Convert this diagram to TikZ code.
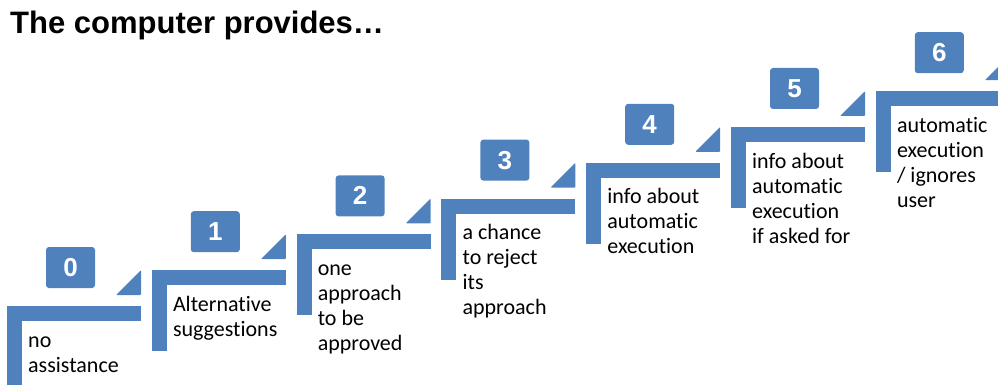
\documentclass[tikz,border=0pt]{standalone}
\usepackage{fontspec}
\setmainfont{Carlito}[Ligatures=NoCommon]
\newfontfamily\headfont{Liberation Sans}
\definecolor{stepblue}{RGB}{79,129,189}

\begin{document}
\begin{tikzpicture}[x=1pt, y=-1pt,
	numbox/.style={fill=stepblue, rounded corners=3pt, minimum width=49pt, minimum height=41pt, inner sep=0pt, text=white, font=\headfont\bfseries\fontsize{26}{26}\selectfont},
	steptext/.style={anchor=base west, align=left, inner sep=0pt, font=\fontsize{22}{25}\selectfont}]
	\useasboundingbox (0,0) rectangle (998,385);
	\clip (0,0) rectangle (998,385);

	\node [anchor=base west, inner sep=0pt, font=\headfont\bfseries\fontsize{31}{31}\selectfont] (title) at (10,34) {The computer provides…};

	% one step of the staircase per entry (number/lines/text)
	\foreach \i/\n/\txt in {0/2/{no\\assistance}, 1/2/{Alternative\\suggestions}, 2/4/{one\\approach\\to be\\approved}, 3/4/{a chance\\to reject\\its\\approach}, 4/3/{info about\\automatic\\execution}, 5/4/{info about\\automatic\\execution\\if asked for}, 6/4/{automatic\\execution\\/ ignores\\user}}{
		\pgfmathsetmacro\L{7+144.8*\i}
		\pgfmathsetmacro\T{306-35.8*\i}
		\fill [stepblue] (\L,\T) rectangle ({\L+134},{\T+15});
		\fill [stepblue] (\L,\T) rectangle ({\L+15},{\T+81});
		\fill [stepblue, rounded corners=1pt] ({\L+109},{\T-11}) -- ({\L+134},{\T-11}) -- ({\L+134},{\T-36}) -- cycle;
		\node [numbox] (num\i) at ({\L+63.5},{\T-38.5}) {\i};
		\node [steptext] (text\i) at ({\L+21},{\T+41+25*(\n-1)}) {\txt};
	}
\end{tikzpicture}
\end{document}
